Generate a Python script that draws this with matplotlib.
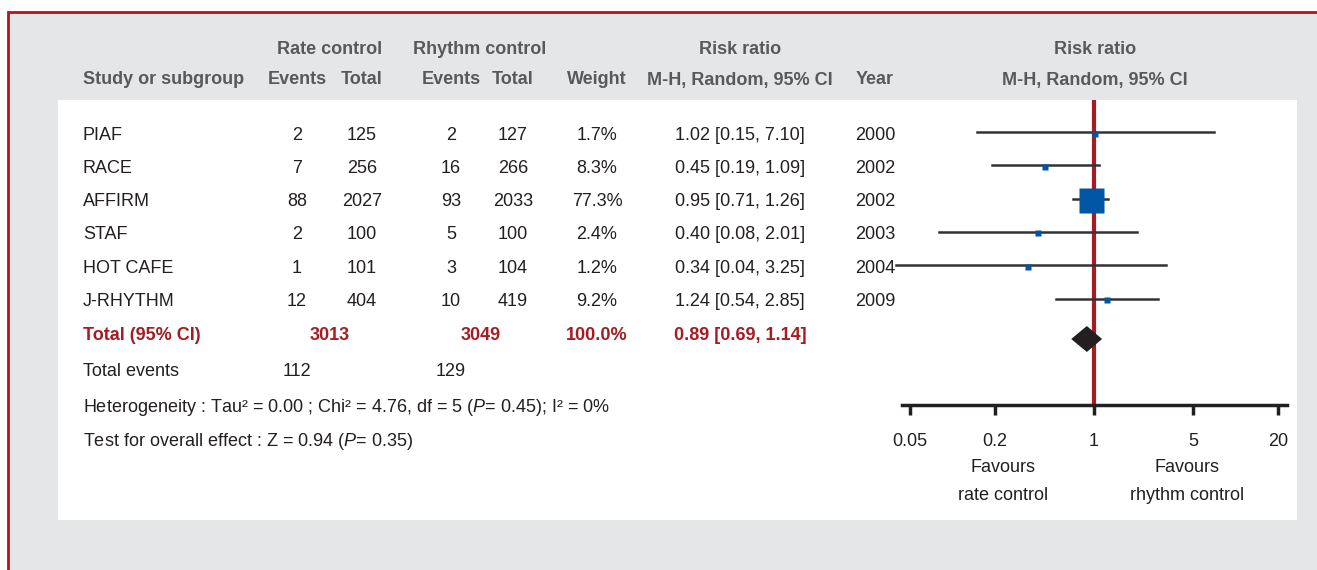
import numpy as np
import matplotlib
matplotlib.use("Agg")
import matplotlib.pyplot as plt
from matplotlib.patches import Rectangle, Polygon

# ---- data ----
studies = ['PIAF', 'RACE', 'AFFIRM', 'STAF', 'HOT CAFE', 'J-RHYTHM']
rate_events = [2, 7, 88, 2, 1, 12]
rate_total = [125, 256, 2027, 100, 101, 404]
rhythm_events = [2, 16, 93, 5, 3, 10]
rhythm_total = [127, 266, 2033, 100, 104, 419]
weights = [1.7, 8.3, 77.3, 2.4, 1.2, 9.2]
rr = [1.02, 0.45, 0.95, 0.40, 0.34, 1.24]
ci_low = [0.15, 0.19, 0.71, 0.08, 0.04, 0.54]
ci_high = [7.10, 1.09, 1.26, 2.01, 3.25, 2.85]
years = [2000, 2002, 2002, 2003, 2004, 2009]

total_rate, total_rhythm = 3013, 3049
total_weight = 100.0
total_rr, total_low, total_high = 0.89, 0.69, 1.14
events_rate, events_rhythm = 112, 129
xticks = [0.05, 0.2, 1, 5, 20]

FONT = ['Liberation Sans Narrow', 'Liberation Sans', 'DejaVu Sans']
plt.rcParams['font.family'] = FONT
plt.rcParams['mathtext.fontset'] = 'custom'
plt.rcParams['mathtext.rm'] = 'Liberation Sans'
plt.rcParams['mathtext.it'] = 'Liberation Sans:italic'

W, H = 1317, 570
fig = plt.figure(figsize=(W / 100, H / 100), dpi=100)
bg = fig.add_axes([0, 0, 1, 1])
bg.set_xlim(0, W)
bg.set_ylim(H, 0)
bg.axis('off')

red = '#A51C22'
dark = '#231F20'
grey = '#58595B'
blue = '#0055A5'

bg.add_patch(Rectangle((8, 12), W + 20, H, facecolor='#E5E6E8', edgecolor='#B5121B', lw=2))
bg.add_patch(Rectangle((58, 100), 1239, 420, facecolor='white', edgecolor='none'))

fs = 13
dy = 3  # baseline nudge
# headers
hk = dict(fontsize=fs, color=grey, fontweight='bold', ha='center', va='center')
bg.text(330, 46 + dy, 'Rate control', **hk)
bg.text(480, 46 + dy, 'Rhythm control', **hk)
bg.text(740, 46 + dy, 'Risk ratio', **hk)
bg.text(1095, 46 + dy, 'Risk ratio', **hk)
bg.text(83, 77 + dy, 'Study or subgroup', fontsize=fs, color=grey, fontweight='bold', ha='left', va='center')
for x, s in [(297, 'Events'), (362, 'Total'), (451, 'Events'), (513, 'Total'),
             (597, 'Weight'), (740, 'M-H, Random, 95% CI'), (875, 'Year'),
             (1095, 'M-H, Random, 95% CI')]:
    bg.text(x, 77 + dy, s, **hk)

row_y = [132 + i * 33.3 for i in range(len(studies))]
tk = dict(fontsize=fs, color=dark, ha='center', va='center')
for i, y in enumerate(row_y):
    bg.text(83, y + dy, studies[i], fontsize=fs, color=dark, ha='left', va='center')
    bg.text(297, y + dy, str(rate_events[i]), **tk)
    bg.text(362, y + dy, str(rate_total[i]), **tk)
    bg.text(451, y + dy, str(rhythm_events[i]), **tk)
    bg.text(513, y + dy, str(rhythm_total[i]), **tk)
    bg.text(597, y + dy, f'{weights[i]:.1f}%', **tk)
    bg.text(740, y + dy, f'{rr[i]:.2f} [{ci_low[i]:.2f}, {ci_high[i]:.2f}]', **tk)
    bg.text(875, y + dy, str(years[i]), **tk)

ty = 332
rk = dict(fontsize=fs, color=red, fontweight='bold', ha='center', va='center')
bg.text(83, ty + dy, 'Total (95% CI)', fontsize=fs, color=red, fontweight='bold', ha='left', va='center')
bg.text(330, ty + dy, str(total_rate), **rk)
bg.text(481, ty + dy, str(total_rhythm), **rk)
bg.text(597, ty + dy, f'{total_weight:.1f}%', **rk)
bg.text(740, ty + dy, f'{total_rr:.2f} [{total_low:.2f}, {total_high:.2f}]', **rk)

bg.text(83, 368 + dy, 'Total events', fontsize=fs, color=dark, ha='left', va='center')
bg.text(297, 368 + dy, str(events_rate), **tk)
bg.text(451, 368 + dy, str(events_rhythm), **tk)
bg.text(83, 404 + dy, 'Heterogeneity : Tau² = 0.00 ; Chi² = 4.76, df = 5 ($\\mathit{P}$= 0.45); I² = 0%',
        fontsize=fs, color=dark, ha='left', va='center')
bg.text(83, 438 + dy, 'Test for overall effect : Z = 0.94 ($\\mathit{P}$= 0.35)',
        fontsize=fs, color=dark, ha='left', va='center')

# ---- forest plot ----
ppd = 141.4  # pixels per decade
x0, x1 = 902, 1287
lo_lim = 10 ** (np.log10(0.05) - (910 - x0) / ppd)
hi_lim = 10 ** (np.log10(20) + (x1 - 1278) / ppd)
y_top, y_axis = 100, 405
ax = fig.add_axes([x0 / W, 1 - y_axis / H, (x1 - x0) / W, (y_axis - y_top) / H])
ax.set_xscale('log')
ax.set_xlim(lo_lim, hi_lim)
ax.set_ylim(y_axis, y_top)
ax.patch.set_alpha(0)
for s in ['top', 'left', 'right']:
    ax.spines[s].set_visible(False)
ax.spines['bottom'].set_linewidth(2.5)
ax.spines['bottom'].set_color(dark)
ax.set_yticks([])
ax.set_xticks(xticks)
ax.set_xticklabels(['0.05', '0.2', '1', '5', '20'])
ax.minorticks_off()
ax.tick_params(axis='x', direction='out', length=7, width=2.5, color=dark,
               labelsize=fs, labelcolor=dark, pad=13)

ax.axvline(1, color=red, lw=3, zorder=1)
for i, y in enumerate(row_y):
    ax.plot([ci_low[i], ci_high[i]], [y, y], color='#333333', lw=1.8, zorder=2, clip_on=False)
    side = max(5.5, 25 * weights[i] / max(weights))
    ax.plot(rr[i], y + 1.5, marker='s', ms=side * 0.72, color=blue, mec='none', zorder=3, linestyle='none')

dh = 13
ax.add_patch(Polygon([(total_low, ty + 7), (total_rr, ty + 7 - dh), (total_high, ty + 7), (total_rr, ty + 7 + dh)],
                     closed=True, facecolor=dark, edgecolor='none', zorder=4))

fk = dict(fontsize=fs, color=dark, ha='center', va='center')
bg.text(1003, 465 + dy, 'Favours', **fk)
bg.text(1003, 492 + dy, 'rate control', **fk)
bg.text(1187, 465 + dy, 'Favours', **fk)
bg.text(1187, 492 + dy, 'rhythm control', **fk)

fig.savefig('out.png', dpi=100)
